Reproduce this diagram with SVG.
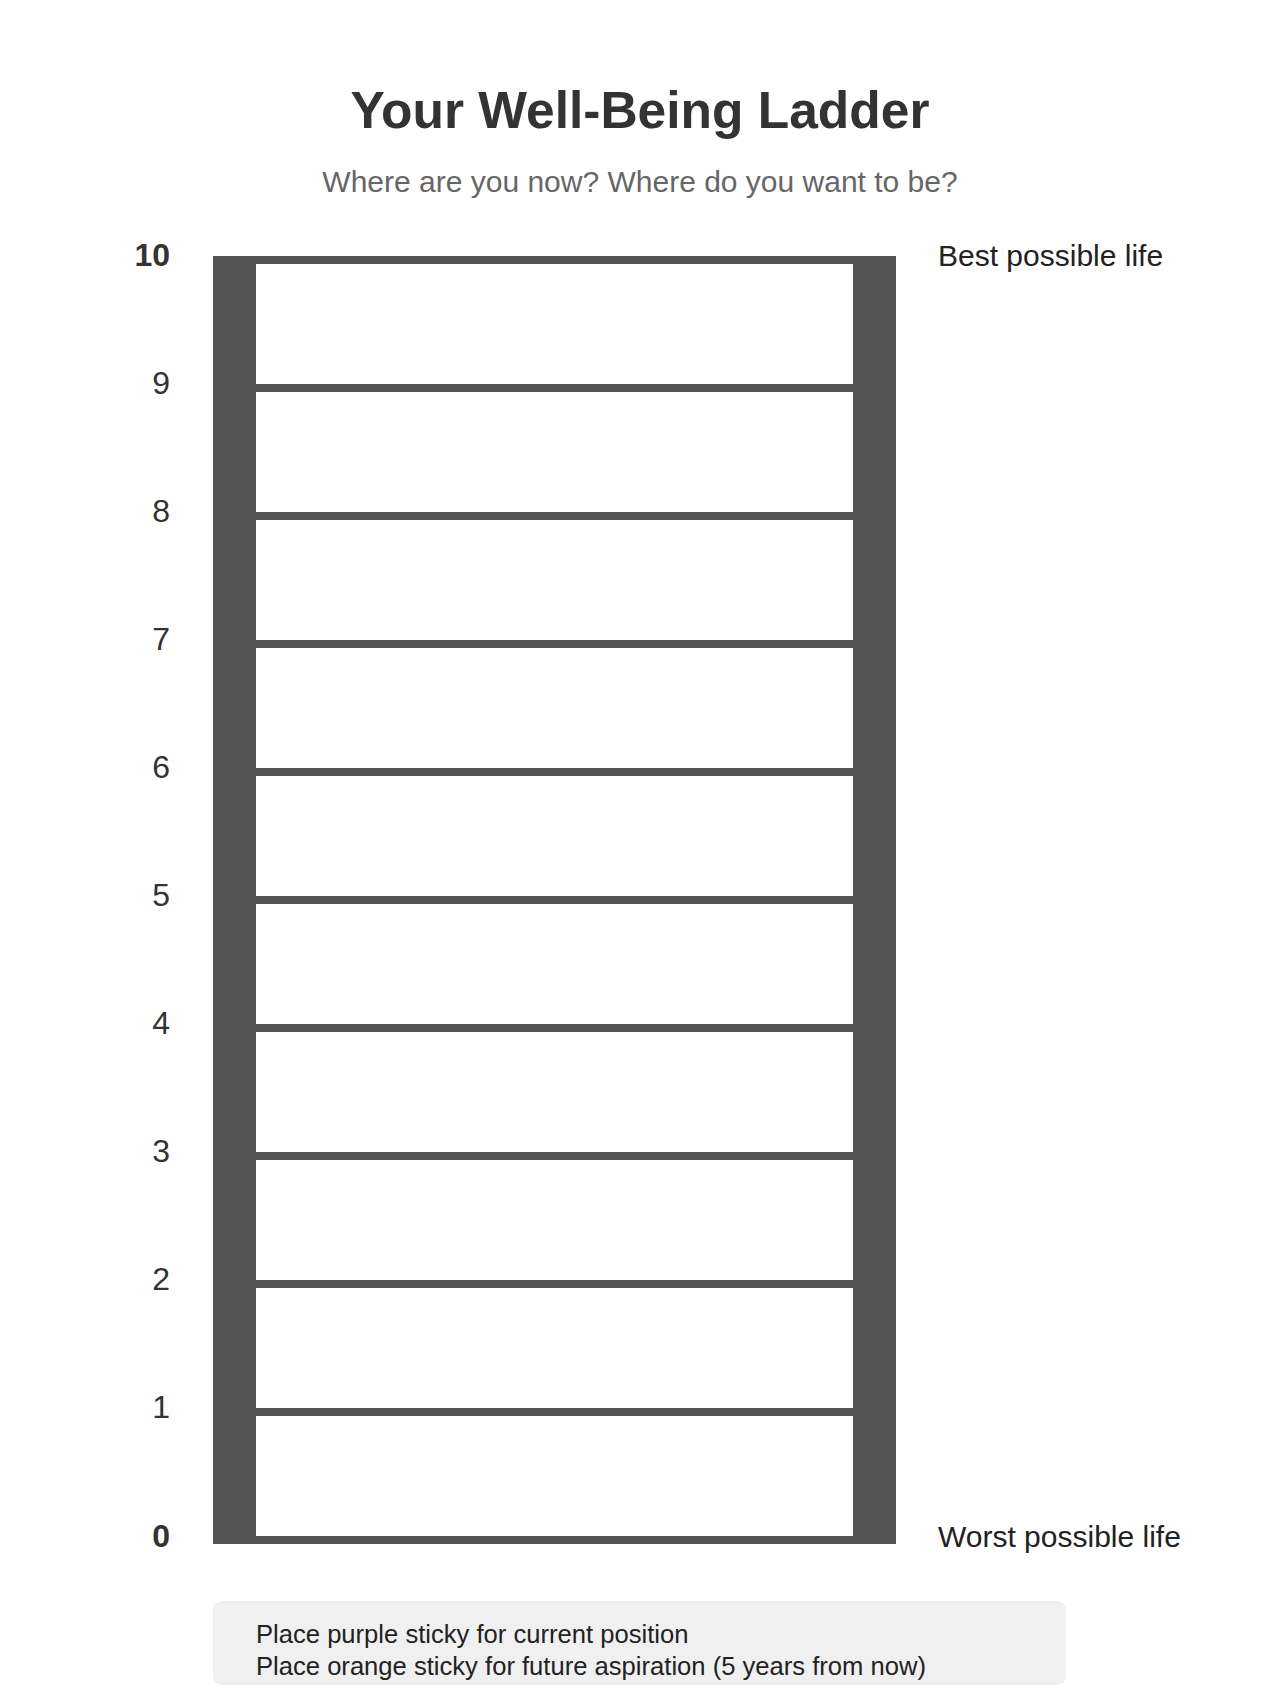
<svg xmlns="http://www.w3.org/2000/svg" width="1280" height="1707" viewBox="0 0 1280 1707">
<style>
.rail{fill:#555555}
.rung{fill:#555555}
.num{font-family:"Liberation Sans",Arial,sans-serif;font-size:32px;fill:#333333;text-anchor:end}
.b{font-weight:bold}
.side{font-family:"Liberation Sans",Arial,sans-serif;font-size:30px;fill:#222222}
.note{font-family:"Liberation Sans",Arial,sans-serif;font-size:25.6px;fill:#222222}
</style>
<rect width="1280" height="1707" fill="#ffffff"/>
<g id="title">
<text x="640" y="128" text-anchor="middle" font-family="Liberation Sans, Arial, sans-serif" font-size="51.5" font-weight="bold" fill="#333333">Your Well-Being Ladder</text>
<text x="640" y="192" text-anchor="middle" font-family="Liberation Sans, Arial, sans-serif" font-size="30" fill="#666666">Where are you now? Where do you want to be?</text>
</g>
<g id="ladder">
<rect class="rail" x="213" y="256" width="43" height="1288"/>
<rect class="rail" x="853" y="256" width="43" height="1288"/>
<rect class="rung" x="213" y="256" width="683" height="8"/>
<rect class="rung" x="213" y="384" width="683" height="8"/>
<rect class="rung" x="213" y="512" width="683" height="8"/>
<rect class="rung" x="213" y="640" width="683" height="8"/>
<rect class="rung" x="213" y="768" width="683" height="8"/>
<rect class="rung" x="213" y="896" width="683" height="8"/>
<rect class="rung" x="213" y="1024" width="683" height="8"/>
<rect class="rung" x="213" y="1152" width="683" height="8"/>
<rect class="rung" x="213" y="1280" width="683" height="8"/>
<rect class="rung" x="213" y="1408" width="683" height="8"/>
<rect class="rung" x="213" y="1536" width="683" height="8"/>
</g>
<g id="scale">
<text class="num b" x="170" y="266">10</text>
<text class="num" x="170" y="394">9</text>
<text class="num" x="170" y="522">8</text>
<text class="num" x="170" y="650">7</text>
<text class="num" x="170" y="778">6</text>
<text class="num" x="170" y="906">5</text>
<text class="num" x="170" y="1034">4</text>
<text class="num" x="170" y="1162">3</text>
<text class="num" x="170" y="1290">2</text>
<text class="num" x="170" y="1418">1</text>
<text class="num b" x="170" y="1547">0</text>
</g>
<g id="labels">
<text class="side" x="938" y="266">Best possible life</text>
<text class="side" x="938" y="1547">Worst possible life</text>
</g>
<g id="instructions">
<rect x="213" y="1601" width="853" height="84" rx="9" fill="#f0f0f0"/>
<text class="note" x="256" y="1643">Place purple sticky for current position</text>
<text class="note" x="256" y="1675">Place orange sticky for future aspiration (5 years from now)</text>
</g>
<g id="connectors"/>
</svg>
